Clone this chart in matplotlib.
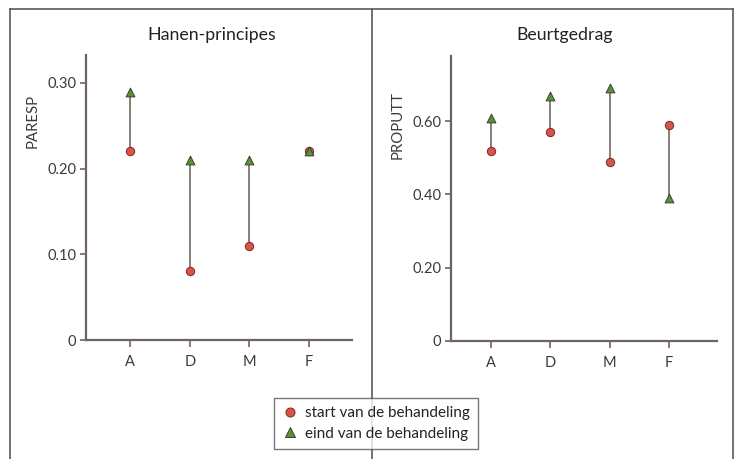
import matplotlib
matplotlib.use("Agg")
import matplotlib.pyplot as plt
from matplotlib.lines import Line2D

categories = ["A", "D", "M", "F"]
hanen_start = [0.22, 0.08, 0.11, 0.22]
hanen_end = [0.29, 0.21, 0.21, 0.22]
beurt_start = [0.52, 0.57, 0.49, 0.59]
beurt_end = [0.61, 0.67, 0.69, 0.39]
hanen_ticks = [0, 0.10, 0.20, 0.30]
hanen_ticklabels = ["0", "0.10", "0.20", "0.30"]
beurt_ticks = [0, 0.20, 0.40, 0.60]
beurt_ticklabels = ["0", "0.20", "0.40", "0.60"]

plt.rcParams['font.family'] = ['Lato', 'DejaVu Sans']

W, H = 739, 459
fig = plt.figure(figsize=(W / 100, H / 100), dpi=100)

red = "#d9534a"
green = "#5a8f3e"
edge_r = "#7a2a22"
edge_g = "#2f4a22"
spine_c = "#6e6360"
line_c = "#6a5a56"
text_c = "#3a3a3a"


def fx(px):
    return px / W


def fy(py):
    return 1 - py / H


# frame
frame_c = "#5a5a5a"
fig.add_artist(Line2D([fx(10), fx(733)], [fy(9), fy(9)], color=frame_c, lw=1.2))
fig.add_artist(Line2D([fx(10), fx(10)], [fy(9), fy(459)], color=frame_c, lw=1.2))
fig.add_artist(Line2D([fx(733), fx(733)], [fy(9), fy(459)], color=frame_c, lw=1.2))
fig.add_artist(Line2D([fx(372), fx(372)], [fy(9), fy(459)], color=frame_c, lw=1.2))


def panel(rect, start, end, ylim, ticks, ticklabels, xlim, title, ylabel, title_xy, ylabel_xy):
    x0, y0, x1, y1 = rect
    ax = fig.add_axes([fx(x0), fy(y1), fx(x1) - fx(x0), fy(y0) - fy(y1)])
    xs = list(range(len(categories)))
    for x, s, e in zip(xs, start, end):
        ax.plot([x, x], [s, e], color=line_c, lw=1.1, zorder=2)
    ax.scatter(xs, start, s=36, color=red, edgecolor=edge_r, linewidth=0.7, zorder=3, marker='o')
    ax.scatter(xs, end, s=40, color=green, edgecolor=edge_g, linewidth=0.7, zorder=4, marker='^')
    ax.set_xlim(*xlim)
    ax.set_ylim(*ylim)
    ax.set_xticks(xs)
    ax.set_xticklabels(categories)
    ax.set_yticks(ticks)
    ax.set_yticklabels(ticklabels)
    for s in ["top", "right"]:
        ax.spines[s].set_visible(False)
    for s in ["left", "bottom"]:
        ax.spines[s].set_color(spine_c)
        ax.spines[s].set_linewidth(1.6)
    ax.tick_params(axis='x', length=5, width=1.2, color=spine_c, labelsize=10.5, labelcolor=text_c, pad=6)
    ax.tick_params(axis='y', length=4, width=1.2, color=spine_c, labelsize=10.5, labelcolor=text_c, pad=3)
    fig.text(fx(title_xy[0]), fy(title_xy[1]), title, ha='center', va='center', fontsize=12.8, color="#222222")
    fig.text(fx(ylabel_xy[0]), fy(ylabel_xy[1]), ylabel, ha='center', va='center', fontsize=10.7,
             rotation=90, color=text_c)
    return ax


panel((86, 55, 352, 340), hanen_start, hanen_end, (0, 0.3326), hanen_ticks, hanen_ticklabels,
      (-0.74, 3.72), "Hanen-principes", "PARESP", (212, 35), (33, 121))
panel((451, 56, 717, 341), beurt_start, beurt_end, (0, 0.778), beurt_ticks, beurt_ticklabels,
      (-0.675, 3.81), "Beurtgedrag", "PROPUTT", (565, 35), (398, 125))

# legend
handles = [
    Line2D([], [], marker='o', ls='none', markersize=6.5, markerfacecolor=red, markeredgecolor=edge_r,
           markeredgewidth=0.7, label="start van de behandeling"),
    Line2D([], [], marker='^', ls='none', markersize=6.5, markerfacecolor=green, markeredgecolor=edge_g,
           markeredgewidth=0.7, label="eind van de behandeling"),
]
leg = fig.legend(handles=handles, loc='center', bbox_to_anchor=(fx(376), fy(423.5)), fontsize=11,
                 frameon=True, fancybox=False, edgecolor="#555555", handletextpad=0.5,
                 handlelength=1.0, labelspacing=0.4, borderpad=0.55)
leg.get_frame().set_linewidth(1.0)
for t in leg.get_texts():
    t.set_color("#222222")

fig.savefig("out.png", dpi=100)
